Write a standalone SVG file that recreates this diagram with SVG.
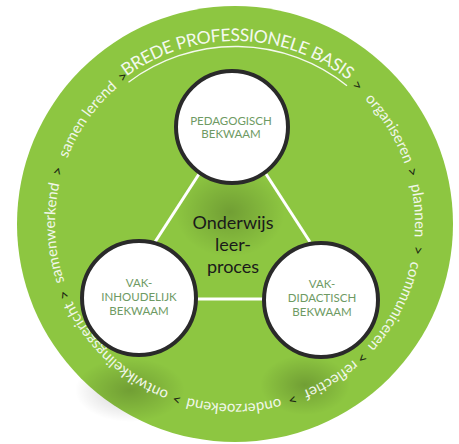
<svg xmlns="http://www.w3.org/2000/svg" xmlns:xlink="http://www.w3.org/1999/xlink" width="459" height="444" viewBox="0 0 459 444">
<defs>
<style>
.arc{font-family:Lato,"Open Sans","Liberation Sans",sans-serif;font-size:15px;fill:#F1F7EA;}
.arr{font-family:Lato,"Open Sans","Liberation Sans",sans-serif;font-size:15px;fill:#1E2A14;}
.big{font-family:Lato,"Open Sans","Liberation Sans",sans-serif;font-size:17.5px;letter-spacing:-0.4px;fill:#F4F9EE;}
.node circle{fill:#FFFFFF;stroke:#2A2A2A;stroke-width:4;}
.lbl{font-family:Lato,"Open Sans","Liberation Sans",sans-serif;font-size:11.5px;fill:#6E9A63;text-anchor:middle;}
.ctr{font-family:Lato,"Open Sans","Liberation Sans",sans-serif;font-size:18px;fill:#1A1A1A;text-anchor:middle;}
.edge{stroke:#FFFFFF;stroke-width:3;fill:none;}
</style>
<radialGradient id="sh" cx="0.5" cy="0.5" r="0.5">
<stop offset="0" stop-color="#000" stop-opacity="0.2"/>
<stop offset="1" stop-color="#000" stop-opacity="0"/>
</radialGradient>
<path id="ring" d="M235,44 A180,180 0 0,1 235,404 A180,180 0 0,1 235,44 A180,180 0 0,1 235,404"/>
<path id="ringB" d="M235,41 A183,183 0 0,1 235,407 A183,183 0 0,1 235,41 A183,183 0 0,1 235,407"/>
</defs>
<circle cx="235" cy="224" r="218" fill="#8DC641"/>
<ellipse cx="230" cy="212" rx="55" ry="45" fill="url(#sh)"/>
<ellipse cx="130" cy="390" rx="55" ry="32" fill="url(#sh)"/>
<ellipse cx="305" cy="385" rx="45" ry="30" fill="url(#sh)"/>
<g id="connectors">
<line class="edge" x1="199" y1="174" x2="155" y2="242"/>
<line class="edge" x1="266" y1="174" x2="310" y2="242"/>
<line class="edge" x1="196" y1="299" x2="264" y2="299"/>
</g>
<g id="ringtext">
<path d="M128.5,82.2 A178,178 0 0,1 347,85.7" stroke="#F4F9EE" stroke-width="1.4" fill="none"/>
<text class="big"><textPath xlink:href="#ringB" href="#ringB" startOffset="1152" text-anchor="middle">BREDE PROFESSIONELE BASIS</textPath></text>
<text class="arr"><textPath href="#ring" startOffset="130.4" text-anchor="middle">&gt;</textPath></text>
<text class="arc"><textPath href="#ring" startOffset="183.2" text-anchor="middle">organiseren</textPath></text>
<text class="arr"><textPath href="#ring" startOffset="231.5" text-anchor="middle">&gt;</textPath></text>
<text class="arc"><textPath href="#ring" startOffset="269.6" text-anchor="middle">plannen</textPath></text>
<text class="arr"><textPath href="#ring" startOffset="308.5" text-anchor="middle">&gt;</textPath></text>
<text class="arc"><textPath href="#ring" startOffset="368.5" text-anchor="middle">communiceren</textPath></text>
<text class="arr"><textPath href="#ring" startOffset="428.8" text-anchor="middle">&gt;</textPath></text>
<text class="arc"><textPath href="#ring" startOffset="465.9" text-anchor="middle">reflectief</textPath></text>
<text class="arr"><textPath href="#ring" startOffset="508.3" text-anchor="middle">&gt;</textPath></text>
<text class="arc"><textPath href="#ring" startOffset="566.4" text-anchor="middle">onderzoekend</textPath></text>
<text class="arr"><textPath href="#ring" startOffset="623" text-anchor="middle">&gt;</textPath></text>
<text class="arc"><textPath href="#ring" startOffset="700.6" text-anchor="middle">ontwikkelingsgericht</textPath></text>
<text class="arr"><textPath href="#ring" startOffset="777.2" text-anchor="middle">&gt;</textPath></text>
<text class="arc"><textPath href="#ring" startOffset="838.8" text-anchor="middle">samenwerkend</textPath></text>
<text class="arr"><textPath href="#ring" startOffset="900" text-anchor="middle">&gt;</textPath></text>
<text class="arc"><textPath href="#ring" startOffset="958.8" text-anchor="middle">samen lerend</textPath></text>
<text class="arr"><textPath href="#ring" startOffset="1013.5" text-anchor="middle">&gt;</textPath></text>
</g>
<g id="center">
<text class="ctr" x="233" y="229">Onderwijs</text>
<text class="ctr" x="233" y="251">leer-</text>
<text class="ctr" x="233" y="273">proces</text>
</g>
<g id="pedagogisch" class="node">
<circle cx="232" cy="127" r="56"/>
<text class="lbl" x="231" y="125">PEDAGOGISCH</text>
<text class="lbl" x="231" y="138">BEKWAAM</text>
</g>
<g id="vakinhoudelijk" class="node">
<circle cx="139" cy="298" r="57"/>
<text class="lbl" x="139" y="287">VAK-</text>
<text class="lbl" x="139" y="301">INHOUDELIJK</text>
<text class="lbl" x="139" y="315">BEKWAAM</text>
</g>
<g id="vakdidactisch" class="node">
<circle cx="321" cy="300" r="57"/>
<text class="lbl" x="322" y="288">VAK-</text>
<text class="lbl" x="322" y="302">DIDACTISCH</text>
<text class="lbl" x="322" y="316">BEKWAAM</text>
</g>
</svg>
